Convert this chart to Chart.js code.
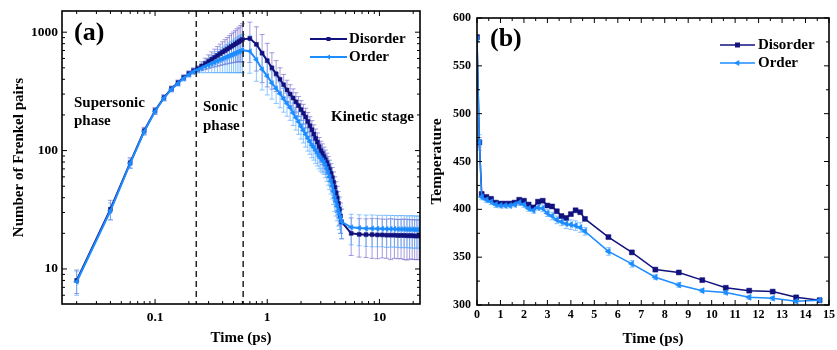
<!DOCTYPE html>
<html><head><meta charset="utf-8">
<script src="https://cdn.jsdelivr.net/npm/chart.js@4.4.1/dist/chart.umd.min.js"></script>
<style>
html,body{margin:0;padding:0;background:#fff;}
#wrap{position:relative;width:837px;height:350px;overflow:hidden;background:#fff;}
#ca{position:absolute;left:0;top:0;}
#cb{position:absolute;left:425px;top:0;}
</style></head><body>
<div id="wrap"><canvas id="ca" width="425" height="350"></canvas><canvas id="cb" width="412" height="350"></canvas></div>
<script>
// ---------- data: panel (a) ----------
const seriesNames = ['Disorder', 'Order'];
const timeA = [0.02,0.04,0.06,0.08,0.10,0.12,0.14,0.16,0.18,0.20,0.22,0.24,
  0.26,0.28,0.30,0.32,0.34,0.36,0.38,0.40,0.42,0.44,0.46,0.48,0.50,0.52,0.54,0.56,0.58,0.60,
  0.7,0.8,0.9,1.0,1.1,1.2,1.3,1.4,1.5,1.6,1.7,1.8,1.9,2.0,2.1,2.2,2.3,2.4,2.5,2.6,
  2.7,2.8,2.9,3.0,3.1,3.2,3.3,3.4,3.5,3.6,3.7,3.8,3.9,4.0,4.1,4.2,4.3,4.4,4.5,4.6,
  5.6,6.6,7.6,8.6,9.6,10.6,11.6,12.6,13.6,14.6,15.6,16.6,17.6,18.6,19.6,20.6,21.6,22.6];
const disorderA = [8,32,79,147,217,280,333,374,414,447,473,492,
  518,543,568,592,614,636,658,680,700,720,740,760,778,797,815,833,850,870,
  885,790,665,575,500,445,400,360,325,300,278,258,240,222,207,192,176,162,150,138,
  127,118,108,100,95,89,84,79,74,69,64,59,54,49,44,40,36,32,28,25,
  20,19.6,19.5,19.5,19.4,19.4,19.3,19.3,19.3,19.2,19.2,19.2,19.1,19.1,19.1,19,19,19];
const orderA = [7.8,31,78,145,215,278,330,370,408,440,465,480,
  497,513,528,543,557,571,584,597,609,621,633,644,655,666,676,686,696,705,
  690,585,485,425,372,335,302,273,250,230,208,190,175,160,148,137,127,119,111,106,
  100,95,90,86,83,80,75,70,65,60,55,50,45,40,37,34,31,29,27,25,
  22.5,22.2,22,22,21.9,21.9,21.8,21.8,21.8,21.7,21.7,21.7,21.6,21.6,21.6,21.5,21.5,21.5];
const disorderErrA = [1.8,6,8,10,14,16,18,20,22,24,26,28,
  45,60,75,90,105,120,135,150,165,180,195,210,225,240,255,270,290,310,
  330,320,290,230,170,130,100,80,68,60,54,50,46,42,39,36,34,31,29,27,
  25,23,21,20,19,18,17,16,15,14,13.5,13,12,11,10.5,10,9,8.5,8,7,
  7,7,7,7.2,7.2,7,7,7.3,7,7,7,7.2,7.2,7,7,7,7,7];
const orderErrA = [1.8,5,7,10,13,15,17,19,21,23,25,27,
  42,58,73,88,102,116,129,142,154,166,178,189,200,211,221,231,241,250,
  240,200,160,130,100,85,72,62,55,50,45,41,38,35,32,30,28,26,24,23,
  22,21,20,19,18,17,16,15,14,13,12,11,10,9.5,9,8.5,8,7.5,7,7,
  6.5,6.5,6.5,6.6,6.5,6.5,6.6,6.5,6.5,6.5,6.6,6.5,6.5,6.5,6.6,6.5,6.5,6.5];
const phaseBoundsA = [0.233, 0.61];
const xTicksA = [0.1, 1, 10];
const xTickLabelsA = ['0.1', '1', '10'];
const xMinorA = [0.02,0.03,0.04,0.05,0.06,0.07,0.08,0.09,0.2,0.3,0.4,0.5,0.6,0.7,0.8,0.9,2,3,4,5,6,7,8,9,20];
const yTicksA = [10, 100, 1000];
const yTickLabelsA = ['10', '100', '1000'];
const yMinorA = [6,7,8,9,20,30,40,50,60,70,80,90,200,300,400,500,600,700,800,900];

// ---------- data: panel (b) ----------
const timeB = [0,0.1,0.2,0.4,0.6,0.8,1.0,1.2,1.4,1.6,1.8,2.0,2.2,2.4,2.6,2.8,3.0,3.2,3.4,3.6,3.8,4.0,4.2,4.4,4.6,
  5.6,6.6,7.6,8.6,9.6,10.6,11.6,12.6,13.6,14.6];
const disorderB = [580,470,416,413,411,407,406,406,406,407,410,409,405,402,408,409,404,403,398,393,391,395,399,397,390,
  371,355,337,334,326,318,315,314,308,305];
const orderB = [578,470,413,410,408,405,404,404,404,405,407,405,401,399,402,401,396,393,389,387,385,384,383,381,377,
  356,343,329,321,315,313,308,307,304,305];
const disorderErrB = [2,5,2,1.5,1.5,1.5,1.5,1.5,1.5,1.5,1.5,1.5,1.5,1.5,1.5,1.5,1.5,1.5,1.5,1.5,1.5,1.5,1.5,1.5,1.5,
  1.5,1.5,1.5,1.5,1.5,1.5,1.5,1.5,1.5,1.5];
const orderErrB = [3,8,3,3,3,3,2.5,2.5,2.5,2.5,3,3,3,3,3,3.5,3.5,4,4,4,5,5,5,5,4,
  4,3.5,2.5,2.5,2,2,2,2,2,2];
const xTicksB = [0,1,2,3,4,5,6,7,8,9,10,11,12,13,14,15];
const xMinorB = [0.5,1.5,2.5,3.5,4.5,5.5,6.5,7.5,8.5,9.5,10.5,11.5,12.5,13.5,14.5];
const yTicksB = [300,350,400,450,500,550,600];
const yMinorB = [325,375,425,475,525,575];

// ---------- styling / helpers ----------
const SERIF = "'Liberation Serif','Times New Roman',serif";
Chart.defaults.font.family = SERIF;
Chart.defaults.font.weight = 'bold';
Chart.defaults.color = '#000';
const C_DIS = '#12127f';
const C_ORD = '#1c8cff';
const C_DIS_ERR = 'rgba(110,95,200,0.62)';
const C_ORD_ERR = 'rgba(75,165,255,0.62)';

function pts(xs, ys) { return xs.map((x, i) => ({x: x, y: ys[i]})); }

const errorBars = {
  id: 'errorBars',
  beforeDatasetsDraw(chart, args, o) {
    const {ctx, chartArea: a, scales: {x, y}} = chart;
    ctx.save();
    ctx.beginPath(); ctx.rect(a.left, a.top, a.width, a.height); ctx.clip();
    chart.data.datasets.forEach(ds => {
      if (!ds.errors) return;
      ctx.strokeStyle = ds.errorColor; ctx.lineWidth = 1;
      ds.data.forEach((p, j) => {
        const e = ds.errors[j];
        const px = x.getPixelForValue(p.x);
        const lo = Math.max(p.y - e, y.min);
        const y1 = y.getPixelForValue(p.y + e), y2 = y.getPixelForValue(lo);
        const c = o.cap || 2.5;
        ctx.beginPath();
        ctx.moveTo(px, y1); ctx.lineTo(px, y2);
        ctx.moveTo(px - c, y1); ctx.lineTo(px + c, y1);
        ctx.moveTo(px - c, y2); ctx.lineTo(px + c, y2);
        ctx.stroke();
      });
    });
    ctx.restore();
  }
};

const frameTicks = {
  id: 'frameTicks',
  afterDraw(chart, args, o) {
    const {ctx, chartArea: a, scales: {x, y}} = chart;
    ctx.save();
    ctx.strokeStyle = '#000'; ctx.lineWidth = 1;
    const inX = v => { const p = x.getPixelForValue(v); return p >= a.left - 0.5 && p <= a.right + 0.5 ? p : null; };
    const inY = v => { const p = y.getPixelForValue(v); return p >= a.top - 0.5 && p <= a.bottom + 0.5 ? p : null; };
    const dx = (vals, len) => vals.forEach(v => { const p = inX(v); if (p === null) return;
      ctx.beginPath(); ctx.moveTo(p, a.bottom); ctx.lineTo(p, a.bottom - len);
      ctx.moveTo(p, a.top); ctx.lineTo(p, a.top + len); ctx.stroke(); });
    const dy = (vals, len) => vals.forEach(v => { const p = inY(v); if (p === null) return;
      ctx.beginPath(); ctx.moveTo(a.left, p); ctx.lineTo(a.left + len, p);
      ctx.moveTo(a.right, p); ctx.lineTo(a.right - len, p); ctx.stroke(); });
    dx(o.xMajor, 5); dx(o.xMinor, 3); dy(o.yMajor, 5); dy(o.yMinor, 3);
    ctx.lineWidth = 1.6;
    ctx.strokeRect(a.left, a.top, a.width, a.height);
    ctx.restore();
  }
};

const dashLines = {
  id: 'dashLines',
  afterDatasetsDraw(chart, args, o) {
    if (!o.values) return;
    const {ctx, chartArea: a, scales: {x}} = chart;
    ctx.save();
    ctx.strokeStyle = '#222'; ctx.lineWidth = 1.5; ctx.setLineDash([6, 4]);
    o.values.forEach(v => { const p = x.getPixelForValue(v);
      ctx.beginPath(); ctx.moveTo(p, a.top); ctx.lineTo(p, a.bottom); ctx.stroke(); });
    ctx.restore();
  }
};

const notes = {
  id: 'notes',
  afterDraw(chart, args, o) {
    const {ctx, chartArea: a} = chart;
    ctx.save();
    ctx.fillStyle = '#000'; ctx.textBaseline = 'middle'; ctx.textAlign = 'left';
    (o.items || []).forEach(it => {
      ctx.font = 'bold ' + it.size + 'px ' + SERIF;
      ctx.fillText(it.text, a.left + it.dx, a.top + it.dy);
    });
    const L = o.legend;
    if (L) {
      chart.data.datasets.forEach((ds, i) => {
        const yy = a.top + L.dy + i * L.gap;
        ctx.strokeStyle = ds.borderColor; ctx.lineWidth = ds.borderWidth;
        ctx.beginPath(); ctx.moveTo(a.left + L.x0, yy); ctx.lineTo(a.left + L.x1, yy); ctx.stroke();
        const cx = a.left + (L.x0 + L.x1) / 2;
        ctx.fillStyle = ds.backgroundColor;
        const r = ds.pointRadius;
        if (ds.pointStyle === 'rect') {
          const s = r * Math.SQRT1_2; ctx.fillRect(cx - s, yy - s, 2 * s, 2 * s);
        } else {
          ctx.beginPath(); ctx.moveTo(cx - r, yy); ctx.lineTo(cx + r * 0.5, yy - r * 0.866);
          ctx.lineTo(cx + r * 0.5, yy + r * 0.866); ctx.closePath(); ctx.fill();
        }
        ctx.fillStyle = '#000';
        ctx.font = 'bold ' + L.size + 'px ' + SERIF;
        ctx.fillText(ds.label, a.left + L.tx, yy + 0.5);
      });
    }
    ctx.restore();
  }
};

function fixX(h) { return s => { s.height = h; s.paddingLeft = 0; s.paddingRight = 0; }; }
function fixY(w) { return s => { s.width = w; s.paddingTop = 0; s.paddingBottom = 0; }; }
function setTicks(vals) { return s => { s.ticks = vals.map(v => ({value: v})); }; }

// ---------- chart (a) ----------
new Chart(document.getElementById('ca'), {
  type: 'line',
  data: {datasets: [
    {label: seriesNames[0], data: pts(timeA, disorderA), errors: disorderErrA, errorColor: C_DIS_ERR,
     borderColor: C_DIS, backgroundColor: C_DIS, borderWidth: 2, pointStyle: 'rect', pointRadius: 2.8,
     pointBorderWidth: 0.5, tension: 0, order: 1},
    {label: seriesNames[1], data: pts(timeA, orderA), errors: orderErrA, errorColor: C_ORD_ERR,
     borderColor: C_ORD, backgroundColor: C_ORD, borderWidth: 2, pointStyle: 'triangle', pointRotation: -90,
     pointRadius: 3, pointBorderWidth: 0.5, tension: 0, order: 0}
  ]},
  options: {
    responsive: false, animation: false, events: [],
    layout: {padding: {left: 0, right: 5, top: 11, bottom: 0}},
    plugins: {
      legend: {display: false}, tooltip: {enabled: false},
      errorBars: {cap: 2.5},
      dashLines: {values: phaseBoundsA},
      frameTicks: {xMajor: xTicksA, xMinor: xMinorA, yMajor: yTicksA, yMinor: yMinorA},
      notes: {
        items: [
          {text: '(a)', dx: 12, dy: 22, size: 26},
          {text: 'Supersonic', dx: 12, dy: 92, size: 15},
          {text: 'phase', dx: 12, dy: 110, size: 15},
          {text: 'Sonic', dx: 141, dy: 96, size: 15},
          {text: 'phase', dx: 141, dy: 115, size: 15},
          {text: 'Kinetic stage', dx: 269, dy: 106, size: 15}
        ],
        legend: {x0: 248, x1: 285, tx: 287, dy: 28, gap: 18, size: 15}
      }
    },
    scales: {
      x: {type: 'logarithmic', min: 0.0148, max: 23,
          afterBuildTicks: setTicks(xTicksA),
          ticks: {callback: v => { const i = xTicksA.indexOf(v); return i >= 0 ? xTickLabelsA[i] : ''; },
                  padding: 5, font: {size: 13.5}, autoSkip: false, maxRotation: 0},
          grid: {display: false, drawTicks: false}, border: {display: false},
          title: {display: true, text: 'Time (ps)', font: {size: 15}, padding: {top: 0, bottom: 3}},
          afterFit: fixX(46)},
      y: {type: 'logarithmic', min: 5.06, max: 1510,
          afterBuildTicks: setTicks(yTicksA),
          ticks: {callback: v => { const i = yTicksA.indexOf(v); return i >= 0 ? yTickLabelsA[i] : ''; },
                  padding: 4, font: {size: 13.5}, autoSkip: false},
          grid: {display: false, drawTicks: false}, border: {display: false},
          title: {display: true, text: 'Number of Frenkel pairs', font: {size: 15}, padding: {top: 10, bottom: 0}},
          afterFit: fixY(62)}
    }
  },
  plugins: [errorBars, dashLines, frameTicks, notes]
});

// ---------- chart (b) ----------
new Chart(document.getElementById('cb'), {
  type: 'line',
  data: {datasets: [
    {label: seriesNames[0], data: pts(timeB, disorderB), errors: disorderErrB, errorColor: C_DIS_ERR,
     borderColor: C_DIS, backgroundColor: C_DIS, borderWidth: 1.5, pointStyle: 'rect', pointRadius: 3.5,
     pointBorderWidth: 0.5, tension: 0, order: 1},
    {label: seriesNames[1], data: pts(timeB, orderB), errors: orderErrB, errorColor: C_ORD_ERR,
     borderColor: C_ORD, backgroundColor: C_ORD, borderWidth: 1.5, pointStyle: 'triangle', pointRotation: -90,
     pointRadius: 3.5, pointBorderWidth: 0.5, tension: 0, order: 0}
  ]},
  options: {
    responsive: false, animation: false, events: [],
    layout: {padding: {left: 0, right: 8, top: 18, bottom: 0}},
    plugins: {
      legend: {display: false}, tooltip: {enabled: false},
      errorBars: {cap: 2.5},
      frameTicks: {xMajor: xTicksB, xMinor: xMinorB, yMajor: yTicksB, yMinor: yMinorB},
      notes: {
        items: [{text: '(b)', dx: 13, dy: 21, size: 26}],
        legend: {x0: 243, x1: 278, tx: 281, dy: 27, gap: 18, size: 15}
      }
    },
    scales: {
      x: {type: 'linear', min: 0, max: 15,
          afterBuildTicks: setTicks(xTicksB),
          ticks: {padding: 3, font: {size: 12}, autoSkip: false, maxRotation: 0},
          grid: {display: false, drawTicks: false}, border: {display: false},
          title: {display: true, text: 'Time (ps)', font: {size: 15}, padding: {top: 0, bottom: 2}},
          afterFit: fixX(45)},
      y: {type: 'linear', min: 300, max: 600,
          afterBuildTicks: setTicks(yTicksB),
          ticks: {padding: 6, font: {size: 12}, autoSkip: false},
          grid: {display: false, drawTicks: false}, border: {display: false},
          title: {display: true, text: 'Temperature', font: {size: 15.5}, padding: {top: 3, bottom: 0}},
          afterFit: fixY(52)}
    }
  },
  plugins: [errorBars, frameTicks, notes]
});
</script></body></html>
